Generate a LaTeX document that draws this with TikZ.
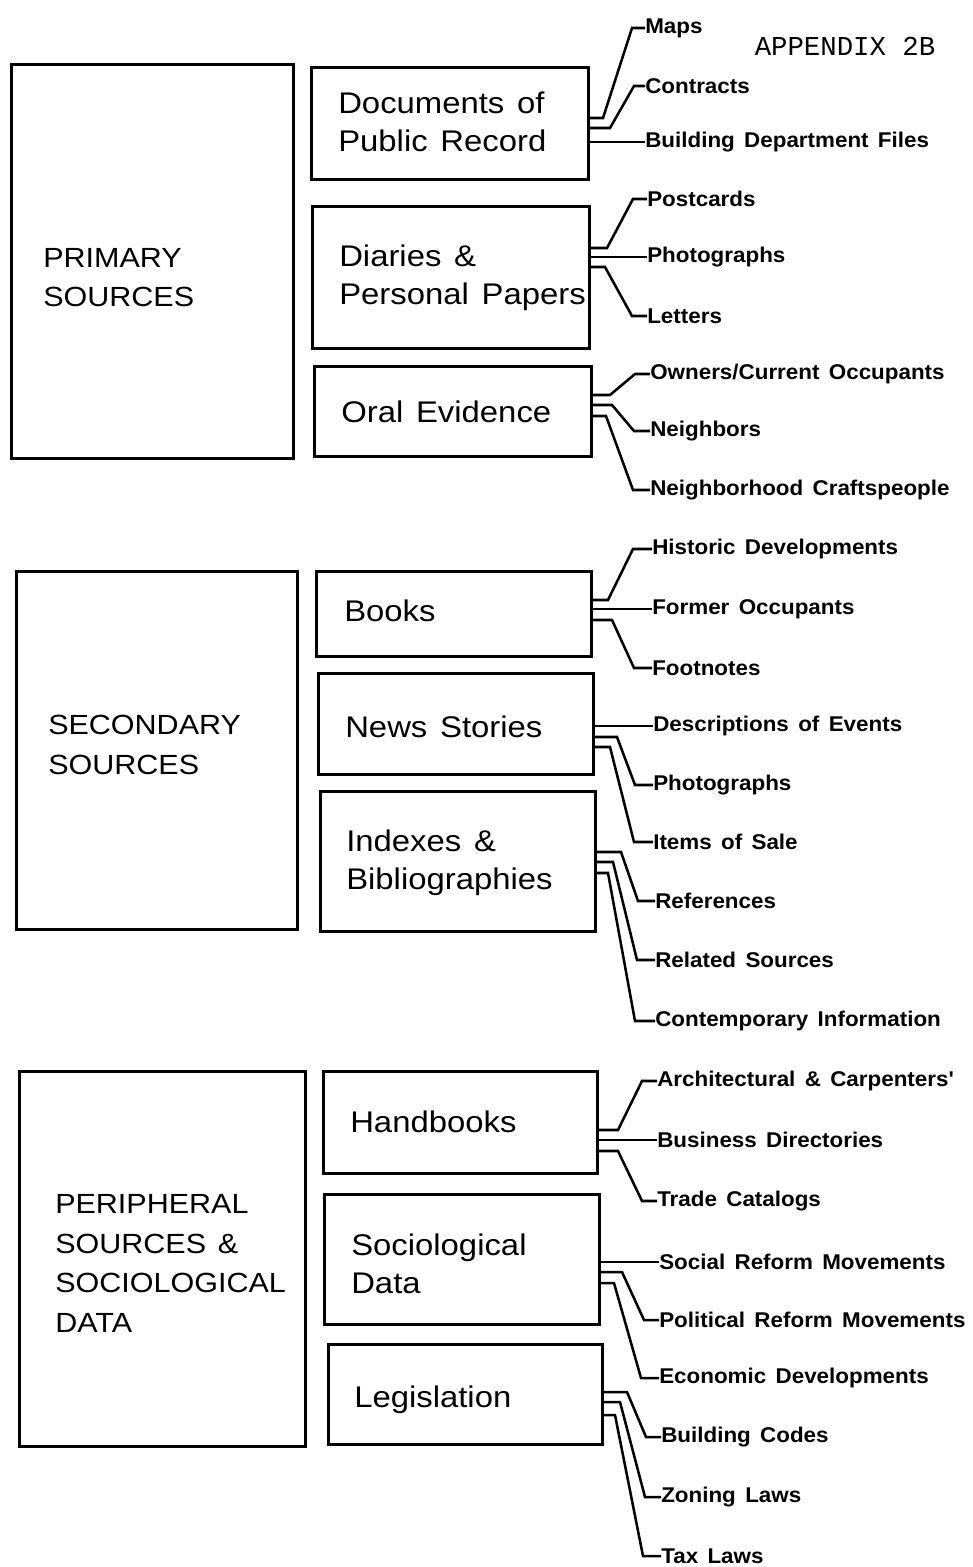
\documentclass[tikz,border=0pt]{standalone}
\usepackage{fontspec}
\setmainfont{Liberation Sans}
\newfontfamily\boxfam[FakeStretch=1.1,WordSpace={1.4}]{Liberation Sans}
\newfontfamily\lblfam[FakeStretch=1.05,WordSpace={1.5}]{Liberation Sans Bold}
\newfontfamily\monofam{Liberation Mono}
\newcommand\hdfnt{\boxfam\fontsize{20.8}{29.5}\selectfont}
\newcommand\infnt{\boxfam\fontsize{22.4}{28.5}\selectfont}
\newcommand\lbfnt{\lblfam\fontsize{16}{18}\selectfont}
\newcommand\mybox[5]{\node[box,minimum width={(#4-#2)*0.75pt},minimum height={(#5-#3)*0.75pt}] (#1) at (#2,#3) {};}
\newcommand\brk[5]{\draw[conn] (#1.east |- 0,#2) -- (#3,#2) -- (#5.west -| #4,0) -- (#5.west);}
\newcommand\brs[2]{\draw[conn] (#1.east |- #2.west) -- (#2.west);}
\begin{document}
\begin{tikzpicture}[x=0.75pt,y=-0.75pt,
  box/.style={draw,line width=2pt,rectangle,inner sep=0pt,anchor=north west},
  head/.style={anchor=west,align=left,inner sep=0pt,font=\hdfnt},
  intext/.style={anchor=west,align=left,inner sep=0pt,font=\infnt},
  lbl/.style={anchor=west,inner sep=0pt,font=\lbfnt},
  conn/.style={line width=1.9pt,line join=miter}]
\useasboundingbox (0,0) rectangle (972,1567);

\node[anchor=center,inner sep=0pt,font=\monofam\fontsize{20.5}{24}\selectfont] (title) at (845,46) {APPENDIX 2B};

% big boxes
\mybox{prim}{10}{63}{292}{457}
\mybox{sec}{15}{570}{296}{928}
\mybox{peri}{18}{1070}{304}{1445}
\node[head] (tprim) at (43,277.5) {PRIMARY\\SOURCES};
\node[head] (tsec) at (48,745) {SECONDARY\\SOURCES};
\node[head,font=\boxfam\fontsize{20.8}{29.8}\selectfont] (tperi) at (55,1263.5) {PERIPHERAL\\SOURCES \&\\SOCIOLOGICAL\\DATA};

% middle boxes
\mybox{doc}{310}{66}{587}{178}
\mybox{dia}{311}{205}{588}{347}
\mybox{oral}{313}{365}{590}{455}
\mybox{books}{315}{570}{590}{655}
\mybox{news}{317}{672}{592}{773}
\mybox{idx}{319}{790}{594}{930}
\mybox{hand}{322}{1070}{596}{1172}
\mybox{soc}{323}{1193}{598}{1323}
\mybox{leg}{327}{1343}{601}{1443}
\node[intext] (tdoc) at (338,122) {Documents of\\Public Record};
\node[intext] (tdia) at (339,277.5) {Diaries \&\\Personal Papers};
\node[intext] (toral) at (341,412) {Oral Evidence};
\node[intext] (tbooks) at (344,611) {Books};
\node[intext] (tnews) at (345,727) {News Stories};
\node[intext] (tidx) at (346,862.5) {Indexes \&\\Bibliographies};
\node[intext] (thand) at (350,1122) {Handbooks};
\node[intext] (tsoc) at (351,1264) {Sociological\\Data};
\node[intext] (tleg) at (354,1400) {Legislation};

% labels
\node[lbl] (l1) at (645,28) {Maps};
\node[lbl] (l2) at (645,86) {Contracts};
\node[lbl] (l3) at (645,142) {Building Department Files};
\node[lbl] (l4) at (647,199) {Postcards};
\node[lbl] (l5) at (647,257) {Photographs};
\node[lbl] (l6) at (647,316) {Letters};
\node[lbl] (l7) at (650,374) {Owners/Current Occupants};
\node[lbl] (l8) at (650,431) {Neighbors};
\node[lbl] (l9) at (650,490) {Neighborhood Craftspeople};
\node[lbl] (l10) at (652,549) {Historic Developments};
\node[lbl] (l11) at (652,609) {Former Occupants};
\node[lbl] (l12) at (652,668) {Footnotes};
\node[lbl] (l13) at (653,726) {Descriptions of Events};
\node[lbl] (l14) at (653,785) {Photographs};
\node[lbl] (l15) at (653,842) {Items of Sale};
\node[lbl] (l16) at (655,901) {References};
\node[lbl] (l17) at (655,960) {Related Sources};
\node[lbl] (l18) at (655,1021) {Contemporary Information};
\node[lbl] (l19) at (657,1081) {Architectural \& Carpenters'};
\node[lbl] (l20) at (657,1140) {Business Directories};
\node[lbl] (l21) at (657,1201) {Trade Catalogs};
\node[lbl] (l22) at (659,1262) {Social Reform Movements};
\node[lbl] (l23) at (659,1320) {Political Reform Movements};
\node[lbl] (l24) at (659,1378) {Economic Developments};
\node[lbl] (l25) at (661,1437) {Building Codes};
\node[lbl] (l26) at (661,1497) {Zoning Laws};
\node[lbl] (l27) at (661,1556) {Tax Laws};

% connectors
\brk{doc}{118}{603}{632}{l1}
\brk{doc}{128}{610}{634}{l2}
\brs{doc}{l3}
\brk{dia}{248}{607}{633}{l4}
\brs{dia}{l5}
\brk{dia}{267}{605}{632}{l6}
\brk{oral}{395}{610}{635}{l7}
\brk{oral}{405}{612}{634}{l8}
\brk{oral}{416}{606}{633}{l9}
\brk{books}{600}{608}{633}{l10}
\brs{books}{l11}
\brk{books}{620}{612}{634}{l12}
\brs{news}{l13}
\brk{news}{737}{617}{635}{l14}
\brk{news}{747}{610}{634}{l15}
\brk{idx}{852}{621}{638}{l16}
\brk{idx}{862}{613}{637}{l17}
\brk{idx}{873}{608}{635}{l18}
\brk{hand}{1130}{618}{642}{l19}
\brs{hand}{l20}
\brk{hand}{1151}{618}{642}{l21}
\brs{soc}{l22}
\brk{soc}{1272}{622}{644}{l23}
\brk{soc}{1283}{614}{641}{l24}
\brk{leg}{1392}{627}{646}{l25}
\brk{leg}{1402}{620}{645}{l26}
\brk{leg}{1415}{615}{643}{l27}
\end{tikzpicture}
\end{document}
